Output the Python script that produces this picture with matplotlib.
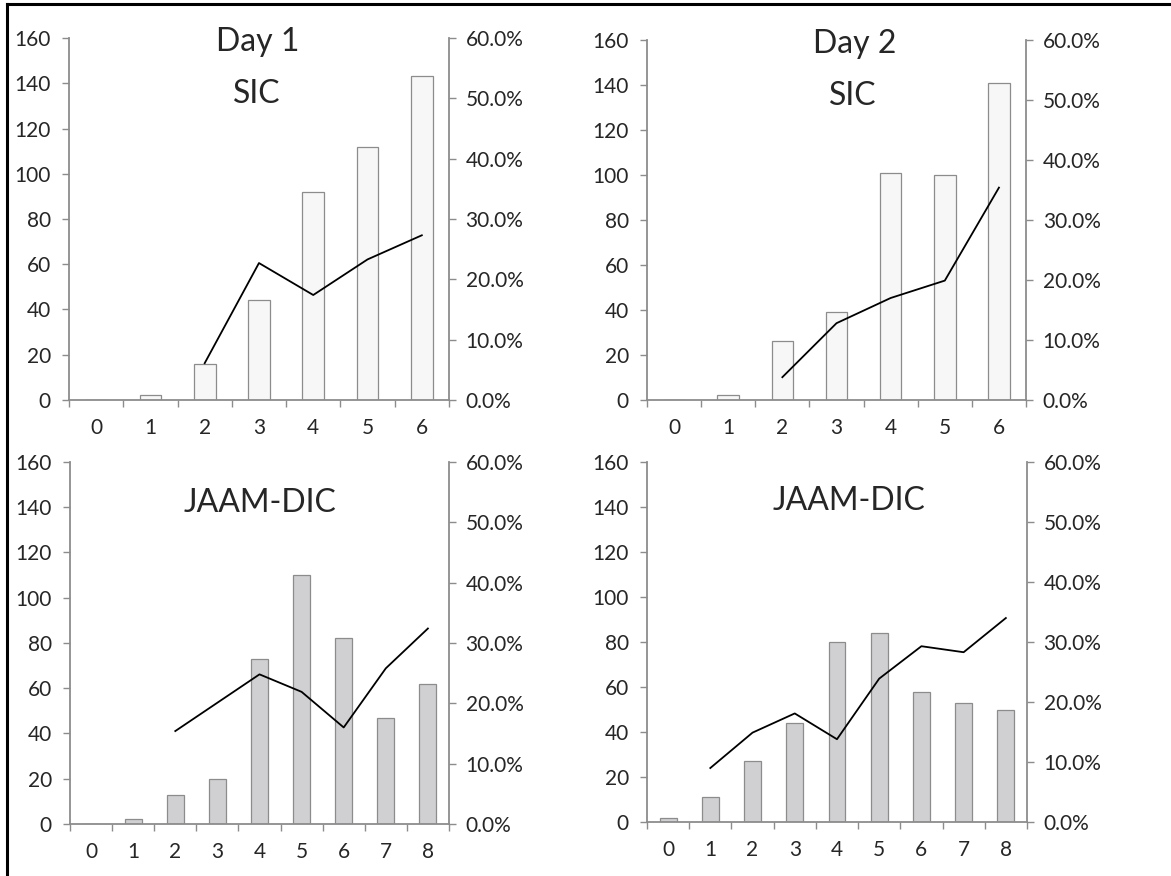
import matplotlib

matplotlib.use("Agg")
import matplotlib.pyplot as plt
from matplotlib.lines import Line2D
from matplotlib.ticker import FuncFormatter, FixedLocator

plt.rcParams["font.family"] = ["Lato", "DejaVu Sans"]

# score categories
sic_scores = [0, 1, 2, 3, 4, 5, 6]
jaam_scores = [0, 1, 2, 3, 4, 5, 6, 7, 8]

# patient counts (bars, left axis)
sic_day1_n = [0, 2, 16, 44, 92, 112, 143]
sic_day2_n = [0, 2, 26, 39, 101, 100, 141]
jaam_day1_n = [0, 2, 13, 20, 73, 110, 82, 47, 62]
jaam_day2_n = [2, 11, 27, 44, 80, 84, 58, 53, 50]

# mortality rate in % (line, right axis); None = no line point
sic_day1_rate = [None, None, 6.1, 22.7, 17.4, 23.3, 27.3]
sic_day2_rate = [None, None, 3.8, 12.8, 17.0, 19.9, 35.4]
jaam_day1_rate = [None, None, 15.4, 20.1, 24.8, 21.9, 16.0, 25.8, 32.4]
jaam_day2_rate = [None, 9.0, 14.9, 18.1, 13.8, 23.9, 29.3, 28.3, 34.0]

SPINE = "#8c8c8c"
TEXT = "#262626"
LIGHT_BAR = "#f7f7f7"
GREY_BAR = "#d0d0d2"
TICK_FS = 15
TITLE_FS = 23

panels = [
    # rect, scores, counts, rates, bar colour, labels [(text, x, y)]
    ([0.0589, 0.5434, 0.3245, 0.4132], sic_scores, sic_day1_n, sic_day1_rate, LIGHT_BAR,
     [("Day 1", 0.497, 0.99), ("SIC", 0.494, 0.845)]),
    ([0.5525, 0.5434, 0.3237, 0.4109], sic_scores, sic_day2_n, sic_day2_rate, LIGHT_BAR,
     [("Day 2", 0.549, 0.99), ("SIC", 0.544, 0.845)]),
    ([0.0598, 0.0594, 0.3236, 0.4132], jaam_scores, jaam_day1_n, jaam_day1_rate, GREY_BAR,
     [("JAAM-DIC", 0.501, 0.887)]),
    ([0.5525, 0.0616, 0.3245, 0.4110], jaam_scores, jaam_day2_n, jaam_day2_rate, GREY_BAR,
     [("JAAM-DIC", 0.532, 0.891)]),
]

fig = plt.figure(figsize=(11.71, 8.76), dpi=100)

for rect, scores, counts, rates, colour, labels in panels:
    ax = fig.add_axes(rect)
    n = len(scores)
    ax.bar(range(n), counts, width=0.4, color=colour, edgecolor=SPINE, linewidth=0.9, zorder=2)
    ax.set_xlim(-0.5, n - 0.5)
    ax.set_ylim(0, 160)
    ax.set_yticks(range(0, 161, 20))
    ax.set_xticks(range(n))
    ax.set_xticklabels([str(s) for s in scores])
    ax.xaxis.set_minor_locator(FixedLocator([i - 0.5 for i in range(n + 1)]))
    ax.tick_params(axis="x", which="major", length=0, pad=13, labelsize=TICK_FS, labelcolor=TEXT)
    ax.tick_params(axis="x", which="minor", length=5, width=1, color=SPINE, direction="out")
    ax.tick_params(axis="y", length=5, width=1, color=SPINE, pad=8, labelsize=TICK_FS, labelcolor=TEXT)
    for side in ("top", "right"):
        ax.spines[side].set_visible(False)
    for side in ("left", "bottom"):
        ax.spines[side].set_color(SPINE)
        ax.spines[side].set_linewidth(1.3)

    ax2 = ax.twinx()
    xs = [i for i, r in enumerate(rates) if r is not None]
    ys = [r / 100 for r in rates if r is not None]
    ax2.plot(xs, ys, color="black", linewidth=1.3, zorder=3)
    ax2.set_ylim(0, 0.6)
    ax2.set_yticks([i / 10 for i in range(7)])
    ax2.yaxis.set_major_formatter(FuncFormatter(lambda v, _: f"{v * 100:.1f}%"))
    ax2.tick_params(axis="y", length=5, width=1, color=SPINE, pad=7, labelsize=TICK_FS, labelcolor=TEXT)
    for side in ("top", "left", "bottom"):
        ax2.spines[side].set_visible(False)
    ax2.spines["right"].set_color(SPINE)
    ax2.spines["right"].set_linewidth(1.3)

    for text, x, y in labels:
        ax.text(x, y, text, transform=ax.transAxes, ha="center", va="center",
                fontsize=TITLE_FS, color=TEXT)

# partial black frame (top and left edges)
fig.add_artist(Line2D([7 / 1171, 1], [1 - 4 / 876, 1 - 4 / 876], color="black", linewidth=2.2,
                      transform=fig.transFigure))
fig.add_artist(Line2D([7 / 1171, 7 / 1171], [0, 1 - 4 / 876], color="black", linewidth=2.2,
                      transform=fig.transFigure))

fig.savefig("out.png", dpi=100)
